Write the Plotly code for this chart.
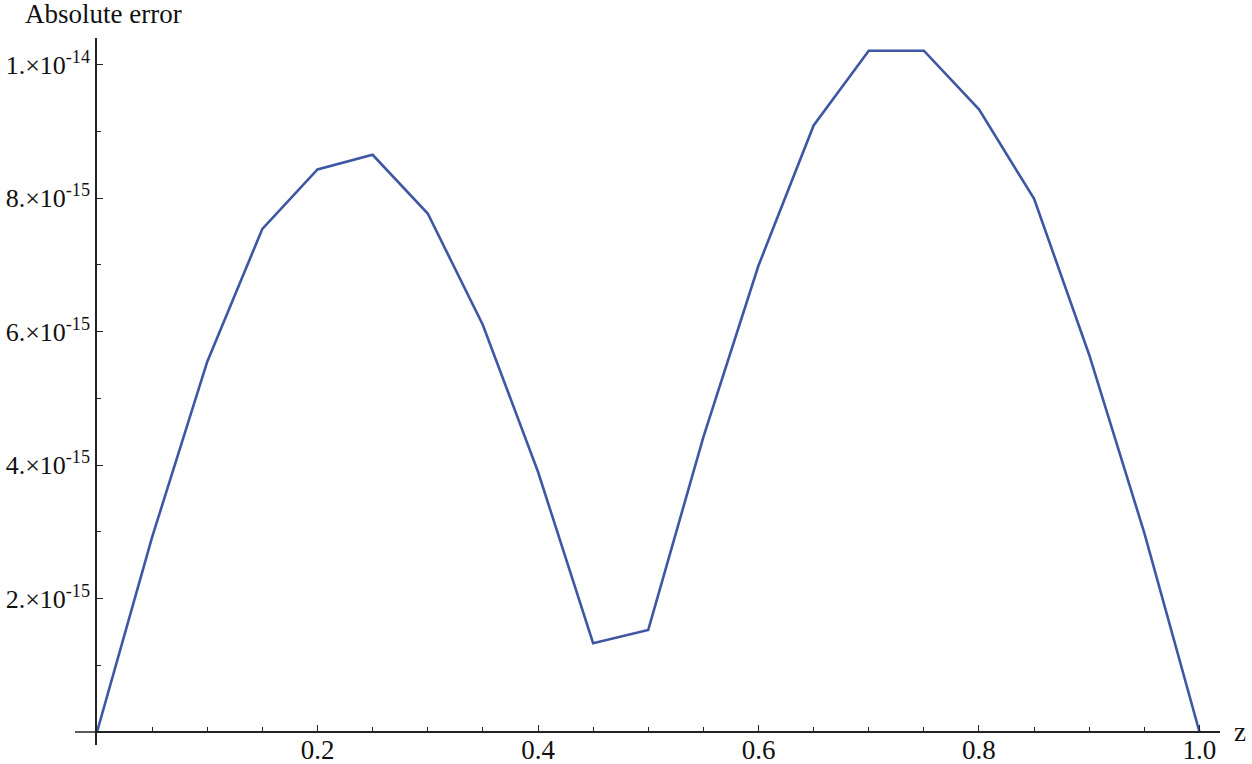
import numpy as np
import plotly.graph_objects as go

# sample points
z_vals = [0.0, 0.05, 0.1, 0.15, 0.2, 0.25, 0.3, 0.35, 0.4, 0.45, 0.5,
          0.55, 0.6, 0.65, 0.7, 0.75, 0.8, 0.85, 0.9, 0.95, 1.0]
err_vals = [0.0, 2.92e-15, 5.55e-15, 7.54e-15, 8.43e-15, 8.65e-15, 7.77e-15,
            6.10e-15, 3.90e-15, 1.33e-15, 1.53e-15, 4.42e-15, 6.99e-15,
            9.09e-15, 1.021e-14, 1.021e-14, 9.33e-15, 7.99e-15, 5.65e-15,
            2.98e-15, 0.0]

x_ticks = [0.2, 0.4, 0.6, 0.8, 1.0]
x_labels = ["0.2", "0.4", "0.6", "0.8", "1.0"]
y_ticks = [2e-15, 4e-15, 6e-15, 8e-15, 1e-14]
y_labels = ["2.×10<sup>-15</sup>", "4.×10<sup>-15</sup>", "6.×10<sup>-15</sup>",
            "8.×10<sup>-15</sup>", "1.×10<sup>-14</sup>"]

xr = [0, 1.0186]
yr = [-0.195e-15, 10.4e-15]
y0_frac = (0 - yr[0]) / (yr[1] - yr[0])
plot_w = 1252 - 97 - 32

font = "Liberation Serif, Times New Roman, serif"
axcol = "#222222"

fig = go.Figure()
fig.add_trace(go.Scatter(x=z_vals, y=err_vals, mode="lines",
                         line=dict(color="#3D57A3", width=2.6),
                         showlegend=False, hoverinfo="skip", cliponaxis=False))

# x axis line sticks out a little left of the y axis
fig.add_shape(type="line", xref="paper", yref="y", x0=-22 / plot_w, x1=0,
              y0=0, y1=0, line=dict(color=axcol, width=1.5))

fig.update_layout(
    width=1252, height=764,
    margin=dict(l=97, r=32, t=38, b=19),
    plot_bgcolor="white", paper_bgcolor="white",
    font=dict(family=font, size=26, color="#111111"),
    xaxis=dict(range=xr, anchor="free", position=y0_frac, showgrid=False,
               zeroline=False, showline=True, linecolor=axcol, linewidth=1.5,
               tickvals=x_ticks, ticktext=x_labels, ticks="inside",
               ticklen=6, tickwidth=1.2, tickcolor=axcol,
               tickfont=dict(family=font, size=27), ticklabelstandoff=-6,
               minor=dict(tickvals=[i * 0.05 for i in range(1, 21)],
                          ticks="inside", ticklen=4, tickwidth=1.2,
                          tickcolor=axcol, showgrid=False),
               automargin=False),
    yaxis=dict(range=yr, showgrid=False,
               zeroline=False, showline=True, linecolor=axcol, linewidth=1.5,
               tickvals=y_ticks, ticktext=y_labels, ticks="inside",
               ticklen=6, tickwidth=1.2, tickcolor=axcol,
               tickfont=dict(family=font, size=26), ticklabeloverflow="allow",
               minor=dict(tickvals=[i * 1e-15 for i in range(1, 11)],
                          ticks="inside", ticklen=4, tickwidth=1.2,
                          tickcolor=axcol, showgrid=False),
               automargin=False),
    annotations=[
        dict(text="Absolute error", x=0, xref="x", y=1, yref="paper",
             xanchor="center", yanchor="bottom", xshift=6, yshift=7,
             showarrow=False, font=dict(family=font, size=27)),
        dict(text="z", x=1, xref="paper", y=0, yref="y",
             xanchor="left", yanchor="middle", xshift=12, showarrow=False,
             font=dict(family=font, size=27)),
    ],
)

# drop the default page margin so the figure fills the window exactly
fig.write_html("out.html", config={"displayModeBar": False},
               post_script="document.body.style.margin='0';")
